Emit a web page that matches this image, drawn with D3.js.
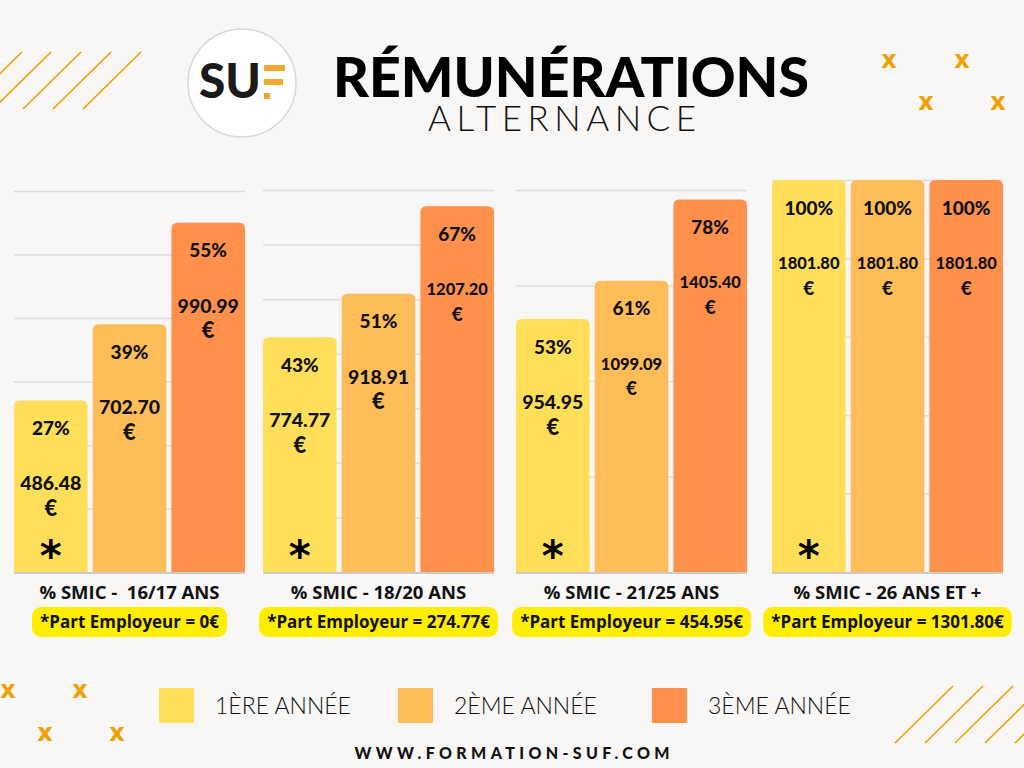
<!DOCTYPE html>
<html>
<head>
<meta charset="utf-8">
<script src="https://cdn.jsdelivr.net/npm/d3@7"></script>
<style>
  html, body { margin: 0; padding: 0; background: #f8f7f5; }
  svg { display: block; }
</style>
</head>
<body>
<div id="chart"></div>
<script>
// data
var groups = ["% SMIC -  16/17 ANS", "% SMIC - 18/20 ANS", "% SMIC - 21/25 ANS", "% SMIC - 26 ANS ET +"];
var years = ["1ÈRE ANNÉE", "2ÈME ANNÉE", "3ÈME ANNÉE"];
var pctValues = [[27, 39, 55], [43, 51, 67], [53, 61, 78], [100, 100, 100]];
var euroValues = [
    ["486.48", "702.70", "990.99"],
    ["774.77", "918.91", "1207.20"],
    ["954.95", "1099.09", "1405.40"],
    ["1801.80", "1801.80", "1801.80"]
];
var employerShare = ["0€", "274.77€", "454.95€", "1301.80€"];
var axisMax = [60, 70, 80, 100];
var tickStep = [10, 10, 20, 20];

var colors = ["#ffde59", "#ffbd59", "#ff914d"];
var accent = "#f0a000";

var W = 1024, H = 768;
var svg = d3.select("#chart").append("svg")
    .attr("width", W)
    .attr("height", H);

svg.append("rect").attr("width", W).attr("height", H).attr("fill", "#f8f7f5");

// ---- decorations ----
var stripes = svg.append("g").attr("stroke", accent).attr("stroke-width", 1.6);
[[22, 51, 81, 111, 141], [953, 983, 1013, 1043, 1073]].forEach(function(tops, k) {
    var y0 = k == 0 ? 52 : 686;
    stripes.selectAll(null)
        .data(tops)
        .enter().append("line")
            .attr("x1", function(d) { return d; })
            .attr("y1", y0)
            .attr("x2", function(d) { return d - 58; })
            .attr("y2", y0 + 57);
});

var crosses = [[889, 61], [962, 61], [926, 103], [998, 103], [8, 691], [80, 691], [45, 734], [117, 734]];
svg.selectAll(".cross")
    .data(crosses)
    .enter().append("text").attr("class", "cross")
        .attr("x", function(d) { return d[0]; })
        .attr("y", function(d) { return d[1]; })
        .attr("dy", "0.3em")
        .attr("text-anchor", "middle")
        .attr("font-family", "DejaVu Sans")
        .attr("font-weight", "bold")
        .attr("font-size", "24px")
        .attr("fill", accent)
        .text("x");

// ---- logo ----
var logo = svg.append("g").attr("transform", "translate(242,83)");
logo.append("circle").attr("r", 54).attr("fill", "#fff").attr("stroke", "#d8d8da").attr("stroke-width", 1.5);
logo.append("text")
    .attr("x", -43).attr("y", 15)
    .attr("font-family", "Lato")
    .attr("font-weight", 900)
    .attr("font-size", "47px")
    .attr("textLength", 62)
    .attr("lengthAdjust", "spacingAndGlyphs")
    .attr("fill", "#1a1a1a")
    .text("SU");
[[22, -18, 21], [22, -4, 19], [22, 10, 6]].forEach(function(b) {
    logo.append("rect")
        .attr("x", b[0]).attr("y", b[1])
        .attr("width", b[2]).attr("height", 6)
        .attr("fill", "#f0a830");
});

// ---- title ----
svg.append("text")
    .attr("x", 571).attr("y", 97)
    .attr("text-anchor", "middle")
    .attr("font-family", "Lato")
    .attr("font-weight", 900)
    .attr("font-size", "56px")
    .attr("textLength", 476)
    .attr("lengthAdjust", "spacingAndGlyphs")
    .attr("fill", "#000")
    .text("RÉMUNÉRATIONS");
svg.append("text")
    .attr("x", 562).attr("y", 131)
    .attr("text-anchor", "middle")
    .attr("font-family", "Lato")
    .attr("font-weight", 300)
    .attr("font-size", "35px")
    .attr("textLength", 268)
    .attr("lengthAdjust", "spacing")
    .attr("fill", "#111")
    .text("ALTERNANCE");

// ---- panels ----
var panelLeft = [14, 263, 516, 772],
    panelTop = [191, 190, 190, 180],
    panelWidth = 231,
    baseY = 572;

function topRounded(x, y, w, h, r) {
    return "M" + x + "," + (y + h) +
        "V" + (y + r) +
        "Q" + x + "," + y + " " + (x + r) + "," + y +
        "H" + (x + w - r) +
        "Q" + (x + w) + "," + y + " " + (x + w) + "," + (y + r) +
        "V" + (y + h) + "Z";
}

groups.forEach(function(name, i) {
    var g = svg.append("g").attr("transform", "translate(" + panelLeft[i] + ",0)");

    var x = d3.scaleBand()
        .domain(years)
        .range([0, panelWidth])
        .paddingInner(0.065);
    var y = d3.scaleLinear()
        .domain([0, axisMax[i]])
        .range([baseY, panelTop[i]]);

    var grid = g.append("g")
        .call(d3.axisLeft(y)
            .tickValues(d3.range(tickStep[i], axisMax[i] + 1, tickStep[i]))
            .tickSize(-panelWidth)
            .tickFormat(""));
    grid.select(".domain").remove();
    grid.selectAll("line").attr("stroke", "#dddddd").attr("stroke-width", 1.5);

    var rows = years.map(function(yr, j) {
        return {year: yr, pct: pctValues[i][j], euro: euroValues[i][j], color: colors[j]};
    });

    g.selectAll(".bar")
        .data(rows)
        .enter().append("path").attr("class", "bar")
            .attr("d", function(d) {
                var top = y(d.pct);
                return topRounded(x(d.year), top, x.bandwidth(), baseY - top, 6);
            })
            .attr("fill", function(d) { return d.color; });

    g.append("line")
        .attr("x1", 0).attr("x2", panelWidth)
        .attr("y1", baseY + 1).attr("y2", baseY + 1)
        .attr("stroke", "#cccccc").attr("stroke-width", 2);

    var cx = function(d) { return x(d.year) + x.bandwidth() / 2; };
    var labels = g.selectAll(".lbl")
        .data(rows)
        .enter().append("g").attr("class", "lbl")
            .attr("font-family", "Lato")
            .attr("font-weight", 900)
            .attr("text-anchor", "middle")
            .attr("fill", "#111");
    labels.append("text")
        .attr("x", cx)
        .attr("y", function(d) { return y(d.pct) + 28; })
        .attr("dy", "0.35em")
        .attr("font-size", "19px")
        .text(function(d) { return d.pct + "%"; });
    labels.append("text")
        .attr("x", cx)
        .attr("y", function(d) { return y(d.pct) + 83; })
        .attr("dy", "0.35em")
        .attr("font-size", function(d) { return d.euro.length > 6 ? "16.5px" : "19.5px"; })
        .text(function(d) { return d.euro; });
    labels.append("text")
        .attr("x", cx)
        .attr("y", function(d) { return y(d.pct) + 108; })
        .attr("dy", "0.35em")
        .attr("font-size", function(d) { return d.euro.length > 6 ? "19px" : "22px"; })
        .text("€");

    // asterisk on the first year
    g.append("text")
        .attr("x", x(years[0]) + x.bandwidth() / 2)
        .attr("y", 571)
        .attr("text-anchor", "middle")
        .attr("font-family", "DejaVu Sans")
        .attr("font-weight", "bold")
        .attr("font-size", "42px")
        .attr("fill", "#000")
        .text("*");

    // category label
    g.append("text")
        .attr("x", panelWidth / 2)
        .attr("y", 592)
        .attr("dy", "0.36em")
        .attr("text-anchor", "middle")
        .attr("font-family", "Open Sans")
        .attr("font-weight", "bold")
        .attr("font-size", "18.5px")
        .attr("fill", "#111")
        .style("white-space", "pre")
        .text(name);

    // employer badge
    var badge = g.append("g");
    var bt = badge.append("text")
        .attr("x", panelWidth / 2)
        .attr("y", 622)
        .attr("dy", "0.36em")
        .attr("text-anchor", "middle")
        .attr("font-family", "Open Sans")
        .attr("font-weight", "bold")
        .attr("font-size", "17px")
        .attr("fill", "#111")
        .text("*Part Employeur = " + employerShare[i]);
    var tw = bt.node().getComputedTextLength();
    badge.insert("rect", "text")
        .attr("x", panelWidth / 2 - tw / 2 - 8)
        .attr("y", 607)
        .attr("width", tw + 16)
        .attr("height", 30)
        .attr("rx", 9)
        .attr("fill", "#ffee00");
});

// ---- legend ----
var legendX = [159, 398, 652];
var legend = svg.selectAll(".legend")
    .data(years)
    .enter().append("g").attr("class", "legend")
        .attr("transform", function(d, j) { return "translate(" + legendX[j] + ",688)"; });
legend.append("rect")
    .attr("width", 35).attr("height", 35)
    .attr("fill", function(d, j) { return colors[j]; });
legend.append("text")
    .attr("x", 56).attr("y", 17.5)
    .attr("dy", "0.36em")
    .attr("font-family", "Lato")
    .attr("font-weight", 300)
    .attr("font-size", "23px")
    .attr("fill", "#111")
    .text(function(d) { return d; });

// ---- footer ----
svg.append("text")
    .attr("x", 512).attr("y", 759)
    .attr("text-anchor", "middle")
    .attr("font-family", "Lato")
    .attr("font-weight", 900)
    .attr("font-size", "16px")
    .attr("textLength", 315)
    .attr("lengthAdjust", "spacing")
    .attr("fill", "#111")
    .text("WWW.FORMATION-SUF.COM");
</script>
</body>
</html>
